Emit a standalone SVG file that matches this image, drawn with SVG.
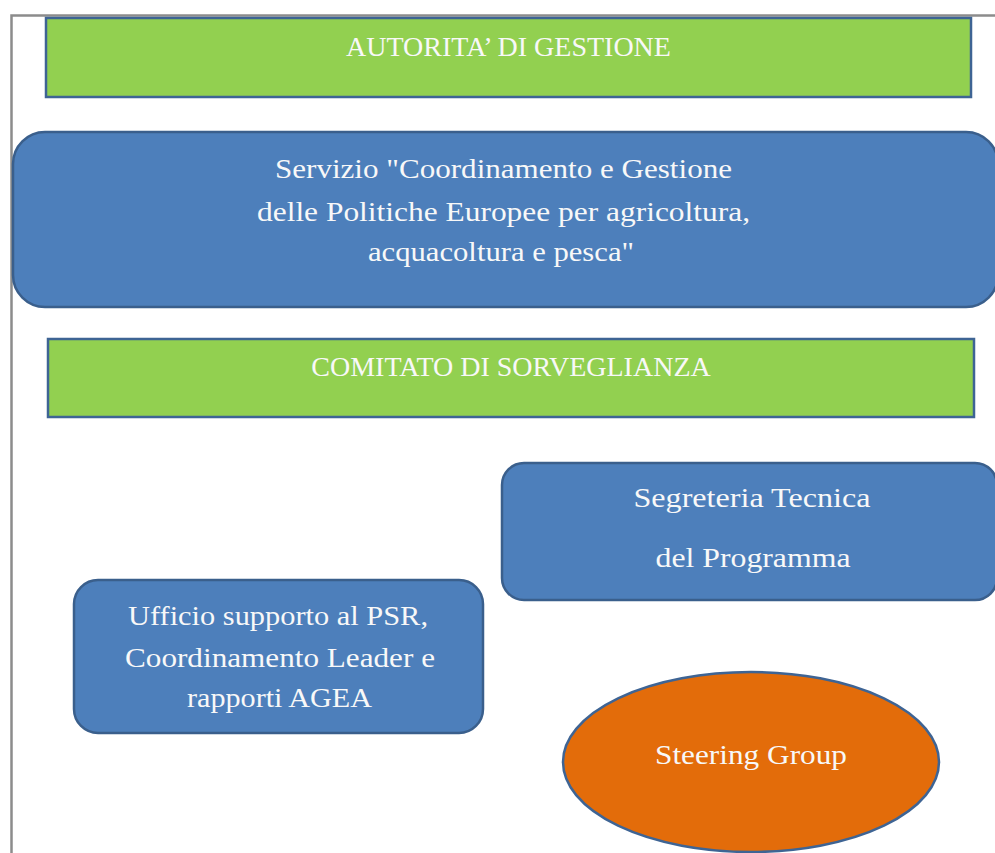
<svg xmlns="http://www.w3.org/2000/svg" width="995" height="853" viewBox="0 0 995 853">
<style>
.bg{fill:#ffffff}
.frame{fill:none;stroke:#8c8c8c;stroke-width:2.5}
.green{fill:#92d050;stroke:#3e6494;stroke-width:2.5}
.blue{fill:#4d7fbb;stroke:#3a5f8c;stroke-width:2.5}
.orange{fill:#e36c0a;stroke:#3e6494;stroke-width:2.5}
text{font-family:"Liberation Serif","DejaVu Serif",serif;fill:#f8f8f8;text-anchor:middle;font-size:28px}
</style>
<rect class="bg" x="0" y="0" width="995" height="853"/>
<path class="frame" d="M11.5,853 V15.5 H995"/>
<g id="autorita">
<rect class="green" x="46" y="18" width="925" height="79"/>
<text x="508.5" y="56">AUTORITA’ DI GESTIONE</text>
</g>
<g id="servizio">
<rect class="blue" x="13" y="132" width="985" height="175" rx="32" ry="32"/>
<text x="503.5" y="178" textLength="457" lengthAdjust="spacingAndGlyphs">Servizio "Coordinamento e Gestione</text>
<text x="503.5" y="221" textLength="493" lengthAdjust="spacingAndGlyphs">delle Politiche Europee per agricoltura,</text>
<text x="501" y="261" textLength="266" lengthAdjust="spacingAndGlyphs">acquacoltura e pesca"</text>
</g>
<g id="comitato">
<rect class="green" x="48" y="339" width="926" height="78"/>
<text x="511" y="376">COMITATO DI SORVEGLIANZA</text>
</g>
<g id="segreteria">
<rect class="blue" x="502" y="463" width="495" height="137" rx="22" ry="22"/>
<text x="752" y="507" textLength="237" lengthAdjust="spacingAndGlyphs">Segreteria Tecnica</text>
<text x="753" y="567" textLength="195" lengthAdjust="spacingAndGlyphs">del Programma</text>
</g>
<g id="ufficio">
<rect class="blue" x="74" y="580" width="409" height="153" rx="24" ry="24"/>
<text x="278" y="625" textLength="300" lengthAdjust="spacingAndGlyphs">Ufficio supporto al PSR,</text>
<text x="280" y="667" textLength="310" lengthAdjust="spacingAndGlyphs">Coordinamento Leader e</text>
<text x="279.5" y="707" textLength="185" lengthAdjust="spacingAndGlyphs">rapporti AGEA</text>
</g>
<g id="steering">
<ellipse class="orange" cx="751" cy="762" rx="188" ry="90"/>
<text x="751" y="764" textLength="192" lengthAdjust="spacingAndGlyphs">Steering Group</text>
</g>
<g id="connectors"/>
</svg>
